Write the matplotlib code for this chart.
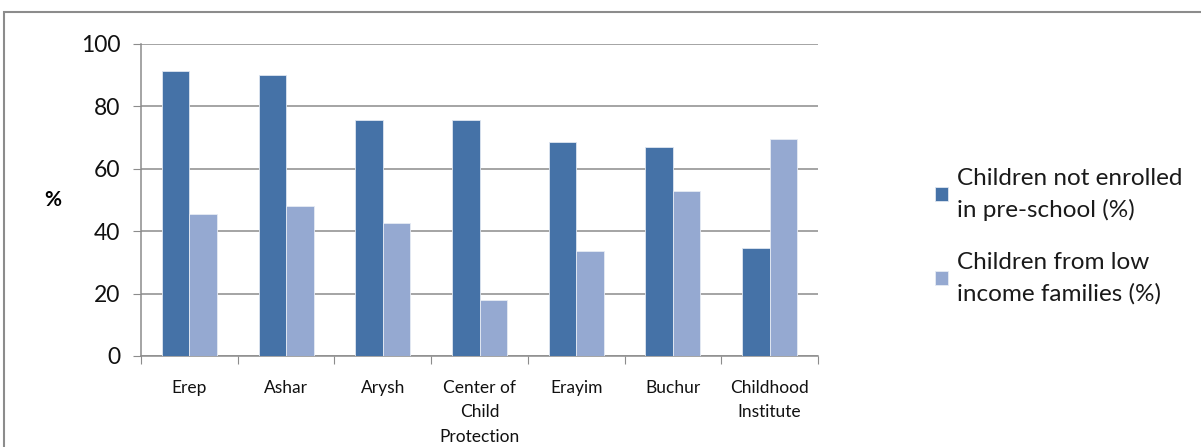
import numpy as np
import matplotlib
matplotlib.use("Agg")
import matplotlib.pyplot as plt
from matplotlib.patches import Rectangle

# data
categories = ["Erep", "Ashar", "Arysh", "Center of\nChild\nProtection", "Erayim", "Buchur", "Childhood\nInstitute"]
not_enrolled = [91.5, 90.0, 75.5, 75.5, 68.5, 67.0, 34.5]
low_income = [45.5, 48.0, 42.5, 18.0, 33.5, 53.0, 69.5]
series_names = ["Children not enrolled\nin pre-school (%)", "Children from low\nincome families (%)"]

plt.rcParams["font.family"] = ["Lato", "DejaVu Sans"]

fig = plt.figure(figsize=(12.01, 4.47), dpi=100)
W, H = 1201, 447
ax = fig.add_axes([141 / W, 1 - 356 / H, (818 - 141) / W, (356 - 44) / H])

x = np.arange(len(categories))
bw = 0.285
ax.bar(x - bw / 2, not_enrolled, bw, color="#4572a7", edgecolor="#dfe6f0", linewidth=0.6,
       label=series_names[0], zorder=3)
ax.bar(x + bw / 2, low_income, bw, color="#95a9d1", edgecolor="#e6ebf4", linewidth=0.6,
       label=series_names[1], zorder=3)

ax.set_xlim(-0.5, len(categories) - 0.5)
ax.set_ylim(0, 100)
ax.set_yticks(np.arange(0, 101, 20))
ax.yaxis.grid(True, color="#8c8c8c", linewidth=1.1, zorder=0)
ax.tick_params(axis="y", labelsize=16.5, length=6, color="#8c8c8c", pad=9, labelcolor="#111111")

# category boundaries as x ticks, labels in between
ax.set_xticks(np.arange(-0.5, len(categories), 1))
ax.set_xticklabels([])
ax.set_xticks(x, minor=True)
ax.set_xticklabels(categories, minor=True, fontsize=12.5, linespacing=1.65, va="top")
ax.tick_params(axis="x", which="major", length=6, color="#8c8c8c")
ax.tick_params(axis="x", which="minor", length=0, pad=17, labelcolor="#111111")

for s in ["top", "right"]:
    ax.spines[s].set_visible(False)
for s in ["left", "bottom"]:
    ax.spines[s].set_color("#8c8c8c")
    ax.spines[s].set_linewidth(1.1)

ax.set_ylabel("%", rotation=0, fontsize=15, fontweight="bold", va="center", ha="center")
ax.yaxis.set_label_coords(-0.13, 0.5)

leg = ax.legend(loc="center left", bbox_to_anchor=(1.155, 0.385), frameon=False,
                fontsize=17.5, handlelength=0.55, handleheight=0.55, handletextpad=0.35,
                labelspacing=1.3, borderpad=0)
for t in leg.get_texts():
    t.set_linespacing(1.54)
    t.set_color("#1a1a1a")

# outer chart frame
fig.add_artist(Rectangle((4 / W, -0.1), 1.1, 1 - 12 / H + 0.1, transform=fig.transFigure,
                         fill=False, edgecolor="#8c8c8c", linewidth=1.5))

plt.savefig("out.png", dpi=100)
